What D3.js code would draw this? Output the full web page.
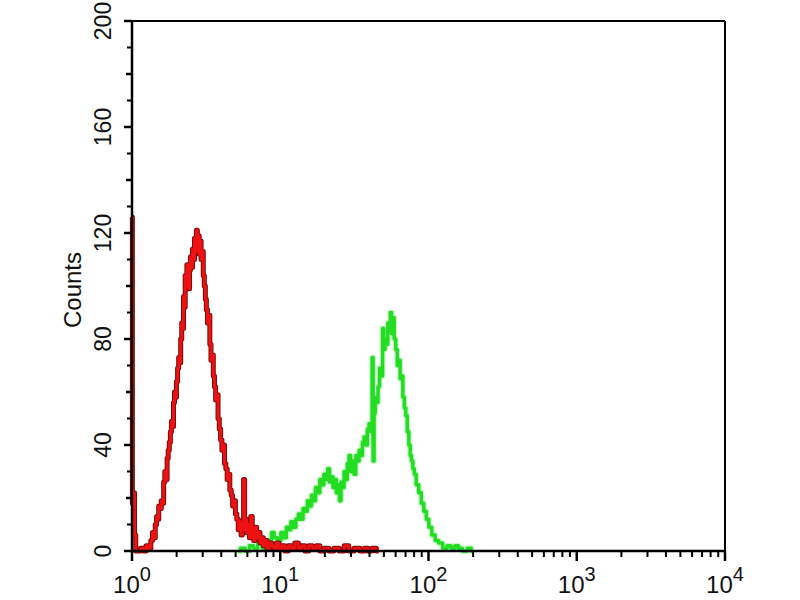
<!DOCTYPE html>
<html><head><meta charset="utf-8">
<script src="https://cdn.jsdelivr.net/npm/d3@7"></script>
<style>body{margin:0;background:#fff}svg{display:block}text{font-family:"Liberation Sans Narrow","Liberation Sans",Arial,sans-serif;fill:#111}</style>
</head><body><svg id="c" width="800" height="600"></svg>
<script>
// Red histogram (isotype control): fluorescence intensity, counts
const redIntensity = [1.000,1.012,1.03,1.05,1.07,1.12,1.17,1.22,1.27,1.32,1.36,1.39,1.42,1.45,1.48,1.50,1.53,1.56,1.59,1.62,1.65,1.68,1.71,1.74,1.77,1.80,1.83,1.86,1.89,1.92,1.95,1.98,2.01,2.05,2.08,2.11,2.15,2.18,2.21,2.24,2.27,2.30,2.33,2.36,2.40,2.43,2.46,2.50,2.54,2.58,2.62,2.66,2.70,2.74,2.78,2.82,2.86,2.90,2.95,3.00,3.05,3.10,3.15,3.20,3.26,3.32,3.38,3.44,3.50,3.57,3.63,3.70,3.77,3.84,3.92,4.00,4.08,4.16,4.25,4.34,4.43,4.52,4.62,4.72,4.82,4.93,5.04,5.15,5.27,5.39,5.50,5.60,5.72,5.78,5.88,6.00,6.13,6.26,6.40,6.55,6.70,6.85,7.00,7.20,7.40,7.60,7.80,8.00,8.30,8.60,8.90,9.20,9.60,10.0,10.5,11.0,11.6,12.2,12.9,13.6,14.3,15.1,16.0,17.0,18.0,19.0,20.5,22,24,26,28,30,33,36,38,40,43,46];
const redCounts = [126,18,22,6,0,0,1,0,2,1,4,7,5,10,13,12,17,16,19,18,26,30,27,35,38,41,45,49,47,56,60,58,64,69,73,71,80,86,84,96,92,104,100,108,103,99,106,111,107,114,110,118,113,121,116,119,112,117,110,113,104,100,95,91,86,89,78,72,74,66,62,57,59,50,46,42,38,40,33,31,27,29,23,21,17,19,14,12,8,11,6,9,27,8,12,7,10,5,13,8,4,9,5,7,3,5,2,4,1,3,2,1,3,1,2,0,2,1,3,1,2,0,2,1,2,0,1,0,1,0,2,0,1,0,1,0,1,0];
// Green histogram (antibody stained)
const greenIntensity = [5.2,5.6,6.0,6.4,6.8,7.3,7.8,8.3,8.6,8.9,9.3,9.9,10.3,10.8,11.2,11.6,12.0,12.5,13.0,13.5,14.0,14.5,15.0,15.5,16.0,16.5,17.0,17.6,18.2,18.8,19.4,20.0,20.6,21.2,21.8,22.4,23.0,23.6,24.2,24.8,25.4,26.0,26.6,27.3,28.0,28.7,29.5,30.2,31.0,31.9,32.8,33.6,34.5,35.4,36.3,37.2,38.2,39.2,40.3,41.3,42.0,42.6,43.3,44.2,45.1,46.2,47.3,48.4,49.6,50.4,51.5,52.6,53.7,54.8,55.8,56.9,58.0,59.4,60.8,62.3,63.7,65.0,66.3,68.0,69.5,71.0,72.8,74.5,76.0,77.5,79.3,81.2,84.0,87.8,91.0,94.9,98.5,102.6,108,114,120,129,138,146,155,163,175,190,199];
const greenCounts = [0,1,0,2,1,3,1,4,2,7,5,4,7,5,9,8,11,9,12,14,12,16,15,19,17,21,19,24,22,27,25,29,27,31,26,28,24,27,22,25,19,26,24,30,27,33,36,30,34,29,36,34,38,36,41,43,40,46,48,45,73,34,52,58,56,62,69,66,84,76,80,78,86,83,90,82,88,80,76,70,72,65,66,58,54,51,45,40,36,34,31,29,25,22,18,15,12,9,6,4,3,1,2,1,2,1,0,1,0];
const yTicks = [0,40,80,120,160,200];
const xDecades = [1,10,100,1000,10000];
const xExponents = ["0","1","2","3","4"];
const yLabel = "Counts";

const svg = d3.select("#c");
const L=132,R=725,T=21,B=551;
const x = d3.scaleLog().domain([1,10000]).range([L,R]);
const y = d3.scaleLinear().domain([0,200]).range([B,T]);

const red = redIntensity.map((v,i)=>[v,redCounts[i]]);
const green = greenIntensity.map((v,i)=>[v,greenCounts[i]]);
const line = d3.line().x(d=>x(d[0])).y(d=>y(d[1])).curve(d3.curveStep);

// green
svg.append("path").attr("d",line(green)).attr("fill","none").attr("stroke","#a8f0a8").attr("stroke-width",6).attr("opacity",0.6).attr("stroke-linejoin","round");
svg.append("path").attr("d",line(green)).attr("fill","none").attr("stroke","#22dd22").attr("stroke-width",3.5).attr("stroke-linejoin","round");
// red
svg.append("path").attr("d",line(red)).attr("fill","none").attr("stroke","#7a0a0a").attr("stroke-width",5).attr("stroke-linejoin","round");
svg.append("path").attr("d",line(red)).attr("fill","none").attr("stroke","#ee1111").attr("stroke-width",3).attr("stroke-linejoin","round");

// frame
svg.append("line").attr("x1",L).attr("x2",R).attr("y1",T).attr("y2",T).attr("stroke","#000").attr("stroke-width",2);
svg.append("line").attr("x1",R).attr("x2",R).attr("y1",T).attr("y2",B).attr("stroke","#000").attr("stroke-width",2);

// y axis
const yMinor = d3.range(0,201,10);
const ya = svg.append("g");
ya.selectAll("line.t").data(yMinor).join("line")
  .attr("x1",L).attr("x2",d=>L-(d%40===0?8:(d%20===0?6:5)))
  .attr("y1",d=>y(d)).attr("y2",d=>y(d)).attr("stroke","#000").attr("stroke-width",d=>d%20===0?2.5:2);
ya.append("line").attr("x1",L).attr("x2",L).attr("y1",T).attr("y2",B+1).attr("stroke","#000").attr("stroke-width",2.5);
ya.selectAll("text").data(yTicks).join("text")
  .attr("transform",d=>`translate(111,${y(d)}) rotate(-90)`)
  .attr("text-anchor","middle").attr("font-size",23).text(d=>d);
svg.append("text").attr("transform",`translate(81,290) rotate(-90)`).attr("text-anchor","middle")
  .attr("font-size",24).style("font-family","'Liberation Sans',Arial,sans-serif").text(yLabel);

// x axis
const xa = svg.append("g");
const minor = [];
xDecades.slice(0,-1).forEach(d=>{for(let k=2;k<=9;k++) minor.push(d*k);});
xa.selectAll("line.mi").data(minor).join("line")
  .attr("x1",d=>x(d)).attr("x2",d=>x(d)).attr("y1",B).attr("y2",B+6).attr("stroke","#000").attr("stroke-width",2);
xa.selectAll("line.ma").data(xDecades).join("line")
  .attr("x1",d=>x(d)).attr("x2",d=>x(d)).attr("y1",B).attr("y2",B+10).attr("stroke","#000").attr("stroke-width",2.5);
xa.append("line").attr("x1",L-1).attr("x2",R+1).attr("y1",B).attr("y2",B).attr("stroke","#000").attr("stroke-width",2.5);
const xt = xa.selectAll("text").data(xDecades).join("text")
  .attr("transform",(d,i)=>`translate(${x(d)},593)`).attr("text-anchor","middle").attr("font-size",24);
xt.append("tspan").text("10");
xt.append("tspan").attr("dy",-12).attr("font-size",20).text((d,i)=>xExponents[i]);
</script></body></html>
